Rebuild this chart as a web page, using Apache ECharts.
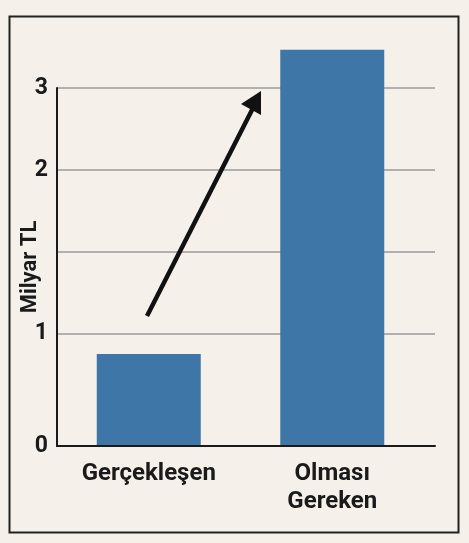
<!DOCTYPE html>
<html>
<head>
<meta charset="utf-8">
<script src="https://cdn.jsdelivr.net/npm/echarts@6/dist/echarts.min.js"></script>
<style>
  html, body { margin: 0; padding: 0; background: #f5f0e9; }
  #chart { width: 469px; height: 543px; }
</style>
</head>
<body>
<div id="chart"></div>
<script>
// Categories and values (y values in the chart's drawn scale, 0 at baseline, "3" at top gridline)
const categories = ['Gerçekleşen', 'Olması\nGereken'];
const values = [0.77, 3.32];
// Gridline values on that scale and their printed tick labels
const tickValues = [0, 0.944, 1.624, 2.311, 3];
const tickLabels = ['0', '1', '', '2', '3'];

const FONT = 'Roboto';
const chart = echarts.init(document.getElementById('chart'), null, { renderer: 'canvas' });

const option = {
  backgroundColor: '#f5f0e9',
  animation: false,
  grid: [
    { left: 57, right: 34, top: 88, bottom: 97 },
    { left: 57, width: 367, top: 88, bottom: 97 }
  ],
  xAxis: [
    {
      gridIndex: 0, type: 'category', data: categories, z: 5,
      axisLine: { show: true, lineStyle: { color: '#1a1a1a', width: 2 } },
      axisTick: { show: false }, axisLabel: { show: false }, splitLine: { show: false }
    },
    {
      gridIndex: 1, type: 'category', data: categories,
      axisLine: { show: false }, axisTick: { show: false },
      axisLabel: {
        fontFamily: FONT, fontWeight: 'bold', fontSize: 24, color: '#1a1a1a',
        margin: 14, lineHeight: 28
      }
    }
  ],
  yAxis: [
    {
      gridIndex: 0, type: 'value', min: 0, max: 3,
      name: 'Milyar TL', nameLocation: 'middle', nameRotate: 90, nameGap: 16,
      nameMoveOverlap: false,
      nameTextStyle: { fontFamily: FONT, fontWeight: 'bold', fontSize: 22, color: '#1a1a1a' },
      axisLine: { show: true, lineStyle: { color: '#1a1a1a', width: 2 } },
      axisTick: { show: false, customValues: tickValues },
      axisLabel: {
        customValues: tickValues,
        formatter: v => { let best = tickLabels[0], d = 1e9; tickValues.forEach((t, i) => { if (Math.abs(t - v) < d) { d = Math.abs(t - v); best = tickLabels[i]; } }); return best; },
        fontFamily: FONT, fontWeight: 'bold', fontSize: 23, color: '#1a1a1a', margin: 9
      },
      splitLine: { show: true, lineStyle: { color: '#9b9b9b', width: 1.5 } }
    },
    {
      gridIndex: 1, type: 'value', min: 0, max: 3, show: false,
      splitLine: { show: false }
    }
  ],
  series: [
    {
      type: 'bar', xAxisIndex: 1, yAxisIndex: 1, data: values,
      barWidth: 104, clip: false,
      itemStyle: { color: '#3e77a7' }
    }
  ],
  graphic: [
    {
      type: 'rect', left: 7, top: 14, z: 10,
      shape: { width: 449, height: 516 },
      style: { fill: 'none', stroke: '#222', lineWidth: 2 }
    },
    {
      type: 'line', z: 10,
      shape: { x1: 147, y1: 316, x2: 254, y2: 106 },
      style: { stroke: '#111', lineWidth: 4.5 }
    },
    {
      type: 'polygon', z: 10,
      shape: { points: [[261, 91], [241, 104], [261, 115]] },
      style: { fill: '#111' }
    }
  ]
};
chart.setOption(option);
</script>
</body>
</html>
